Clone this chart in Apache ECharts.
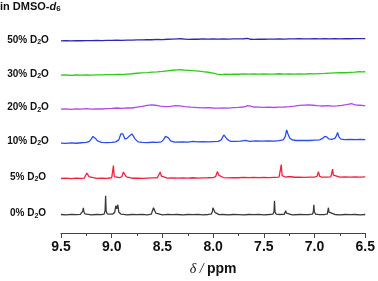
<!DOCTYPE html>
<html><head><meta charset="utf-8">
<script src="https://cdn.jsdelivr.net/npm/echarts@6/dist/echarts.min.js"></script>
<style>html,body{margin:0;padding:0;background:#fff}#c{width:378px;height:281px}</style>
</head><body><div id="c"></div>
<script>
// ---- data: [chemical shift (ppm), relative intensity] ----
const spec0 = [[9.50,0.2],[9.45,-0.2],[9.40,0.3],[9.35,0],[9.31,0.3],[9.295,0.8],[9.285,3.5],[9.28,7],[9.275,3.5],[9.265,0.8],[9.25,0.2],[9.20,-0.2],[9.15,0.2],[9.10,0],[9.075,0.5],[9.065,4],[9.06,19],[9.055,4],[9.045,0.8],[9.02,0.5],[8.99,0.6],[8.97,2.5],[8.96,9],[8.95,6],[8.94,10],[8.93,2.5],[8.91,0.6],[8.88,0.2],[8.85,-0.3],[8.80,0.2],[8.75,0],[8.70,0.3],[8.65,-0.2],[8.61,0.5],[8.595,2.5],[8.588,7],[8.58,5],[8.575,6],[8.565,1.5],[8.55,0.2],[8.50,-0.2],[8.45,0.3],[8.40,0],[8.35,0.2],[8.30,-0.2],[8.25,0.2],[8.20,0],[8.15,0.3],[8.10,-0.2],[8.05,0.2],[8.02,0.6],[8.008,3],[8.002,7],[7.995,5],[7.99,6],[7.98,2],[7.965,0.5],[7.94,0],[7.90,0.2],[7.85,-0.2],[7.80,0.2],[7.75,0],[7.70,-0.2],[7.65,0.2],[7.60,0],[7.55,0.3],[7.50,-0.1],[7.45,0.2],[7.41,0.6],[7.40,3],[7.395,14],[7.39,3],[7.38,0.6],[7.35,0.2],[7.30,0.3],[7.29,1.5],[7.284,4],[7.278,1.5],[7.27,0.3],[7.22,-0.2],[7.15,0.2],[7.10,0],[7.05,0.2],[7.02,0.6],[7.012,3],[7.007,10],[7.002,3],[6.99,0.6],[6.95,0],[6.90,0.2],[6.875,0.6],[6.868,2.5],[6.863,7],[6.858,2.5],[6.85,0.6],[6.80,0.2],[6.75,-0.2],[6.70,0.2],[6.65,0],[6.60,0.2],[6.55,-0.1],[6.50,0.2]];
const spec5 = [[9.50,-0.5],[9.45,-0.2],[9.40,-0.6],[9.35,-0.2],[9.30,-0.4],[9.27,0],[9.255,1.5],[9.245,5],[9.24,6],[9.235,5],[9.225,1.5],[9.21,0],[9.15,-0.3],[9.10,0],[9.05,-0.3],[9.00,0.3],[8.99,1.5],[8.983,12.5],[8.975,1.5],[8.96,0.3],[8.92,0.3],[8.90,1.5],[8.885,6],[8.878,5],[8.87,5.5],[8.855,1.2],[8.84,0.2],[8.80,-0.2],[8.75,0],[8.70,-0.3],[8.65,0],[8.60,0.2],[8.55,0.3],[8.535,2],[8.522,6],[8.51,2],[8.495,0.3],[8.45,0],[8.40,0.2],[8.35,-0.2],[8.30,0.2],[8.25,0],[8.20,0.3],[8.15,0],[8.10,0.2],[8.05,0.3],[8.00,0.5],[7.975,1.5],[7.958,6.5],[7.945,3],[7.93,1],[7.90,0.5],[7.85,0.2],[7.80,0.5],[7.75,0.3],[7.70,0.6],[7.65,0.4],[7.60,0.6],[7.55,0.5],[7.50,0.7],[7.45,0.5],[7.40,0.7],[7.35,0.9],[7.335,2.5],[7.328,13.5],[7.32,2.5],[7.31,1],[7.28,0.8],[7.26,1.5],[7.245,2.5],[7.23,1.3],[7.20,0.8],[7.15,1],[7.10,0.7],[7.05,1],[7.00,0.9],[6.975,1.8],[6.962,6.5],[6.95,1.8],[6.93,1],[6.88,0.9],[6.84,1.2],[6.828,3],[6.822,9],[6.815,3],[6.80,1.2],[6.75,0.9],[6.70,1.2],[6.65,0.9],[6.60,1.1],[6.55,1],[6.50,1.1]];
const spec10 = [[9.50,-1.2],[9.45,-1.5],[9.40,-1],[9.35,-1.4],[9.30,-0.9],[9.25,-0.6],[9.22,0.5],[9.20,3],[9.185,5.5],[9.175,6],[9.16,3.5],[9.14,1],[9.10,-0.5],[9.05,-0.8],[9.00,-0.6],[8.96,0],[8.93,2],[8.91,8],[8.90,10],[8.89,8],[8.87,3],[8.85,3.5],[8.82,6.5],[8.80,8],[8.79,7.5],[8.77,3],[8.74,0],[8.70,-0.5],[8.65,-0.8],[8.60,-0.4],[8.55,-0.6],[8.51,0],[8.49,2],[8.47,5.5],[8.455,6.5],[8.44,4],[8.42,1],[8.38,-0.2],[8.30,0],[8.25,-0.3],[8.20,0.5],[8.15,0],[8.10,0.2],[8.05,-0.1],[8.00,0.3],[7.95,0.5],[7.92,2],[7.895,7],[7.88,6],[7.86,2.5],[7.83,0.6],[7.78,0.5],[7.73,0.8],[7.68,1.6],[7.64,0.6],[7.58,1.1],[7.52,0.7],[7.45,1],[7.40,0.8],[7.35,1.2],[7.31,2],[7.29,5],[7.275,12],[7.262,8],[7.245,4],[7.22,2],[7.18,1.4],[7.12,1.6],[7.05,1.4],[7.00,1.8],[6.95,2],[6.92,3.5],[6.90,5.5],[6.88,5],[6.86,3],[6.83,2.5],[6.80,3.5],[6.785,6],[6.773,9.5],[6.76,5],[6.74,2.8],[6.70,2.2],[6.65,2.5],[6.60,2.2],[6.55,2.5],[6.50,2.3]];
const spec20 = [[9.50,-1],[9.45,-0.6],[9.40,-1.1],[9.35,-0.7],[9.30,-1],[9.25,-0.5],[9.20,-0.9],[9.15,-0.6],[9.10,-0.8],[9.05,-0.4],[9.00,-0.2],[8.95,0.2],[8.90,-0.1],[8.85,0.4],[8.80,0.2],[8.75,1],[8.70,1.8],[8.65,2.8],[8.61,3.3],[8.57,3],[8.52,2],[8.47,1.5],[8.42,1.8],[8.37,2.5],[8.33,2.3],[8.28,1.5],[8.22,1],[8.15,0.6],[8.10,0.3],[8.05,0.5],[8.00,0.2],[7.95,0],[7.90,0.3],[7.85,0.1],[7.80,0.5],[7.75,0.8],[7.70,1.2],[7.66,2.5],[7.645,3.3],[7.63,2],[7.60,1.2],[7.55,1],[7.50,0.8],[7.45,1],[7.40,0.7],[7.35,1],[7.30,1.2],[7.25,1.5],[7.20,2],[7.15,2.8],[7.10,3.2],[7.06,3.4],[7.02,3],[6.97,2.5],[6.92,2.2],[6.87,2.5],[6.82,2],[6.78,2.3],[6.73,2.8],[6.69,3.5],[6.66,4.2],[6.64,4.7],[6.62,4],[6.59,3.2],[6.55,3],[6.52,2.5],[6.50,2.6]];
const spec30 = [[9.50,-0.2],[9.45,0],[9.40,-0.3],[9.35,0],[9.30,-0.2],[9.25,0.1],[9.20,-0.1],[9.15,0.2],[9.10,0.1],[9.05,0.4],[9.00,0.3],[8.95,0.6],[8.90,0.5],[8.85,1],[8.80,1.3],[8.75,1.8],[8.71,2.2],[8.65,2.5],[8.60,3],[8.55,3.2],[8.50,3.6],[8.45,4.2],[8.40,4.8],[8.36,5.2],[8.32,5.3],[8.28,5],[8.24,4.7],[8.20,4.4],[8.14,4],[8.10,3.4],[8.05,2.8],[8.00,1.8],[7.96,1],[7.92,0.5],[7.88,0.8],[7.84,0.6],[7.80,1],[7.75,0.8],[7.70,1.1],[7.65,0.9],[7.60,1.2],[7.55,1],[7.50,1.2],[7.45,0.9],[7.40,1],[7.35,1.3],[7.30,1],[7.25,1.2],[7.20,0.9],[7.15,1.1],[7.10,1],[7.05,1.3],[7.00,1.2],[6.95,1.5],[6.90,1.6],[6.85,2],[6.80,2.2],[6.75,2.4],[6.70,2.3],[6.65,2.7],[6.60,3],[6.56,3.4],[6.53,3.2],[6.50,3.3]];
const spec50 = [[9.50,0],[9.45,0.2],[9.40,-0.1],[9.35,0.2],[9.30,0.1],[9.25,0.3],[9.20,0.2],[9.15,0.4],[9.10,0.3],[9.05,0.5],[9.00,0.4],[8.95,0.6],[8.90,0.5],[8.85,0.8],[8.80,0.7],[8.75,1],[8.70,0.9],[8.65,1.2],[8.60,1.1],[8.55,1.4],[8.50,1.3],[8.45,1.6],[8.40,1.7],[8.35,2],[8.32,2.1],[8.28,1.8],[8.24,1.5],[8.20,1.7],[8.15,1.6],[8.10,1.9],[8.05,1.7],[8.00,1.9],[7.95,1.8],[7.90,2],[7.85,1.8],[7.80,2],[7.75,1.9],[7.70,2.1],[7.66,2.4],[7.63,1.6],[7.60,1.5],[7.55,1.7],[7.50,1.6],[7.45,1.8],[7.40,1.7],[7.35,1.9],[7.30,1.8],[7.25,2],[7.20,1.9],[7.15,2.1],[7.10,1.9],[7.05,2],[7.00,2.1],[6.95,1.9],[6.90,2.1],[6.85,2],[6.80,2.2],[6.75,2],[6.70,2.2],[6.65,2.1],[6.60,2.3],[6.55,2.2],[6.50,2.3]];
const percents = ['0%', '5%', '10%', '20%', '30%', '50%'];
const xTickLabels = ['9.5', '9.0', '8.5', '8.0', '7.5', '7.0', '6.5'];

// ---- presentation ----
const spectra = [spec0, spec5, spec10, spec20, spec30, spec50];
const colors = ['#3a3a3a', '#f02040', '#2a4cf0', '#b048f0', '#2ccc14', '#2a2ab8'];
const offsets = [18.5, 55.5, 92, 126, 159.5, 194];   // vertical stacking of traces
const FONT = '"Liberation Sans", Arial, sans-serif';

const chart = echarts.init(document.getElementById('c'), null, {renderer: 'canvas'});
chart.setOption({
  animation: false,
  backgroundColor: '#fff',
  grid: {left: 61, right: 11, top: 25, bottom: 46},
  xAxis: {
    type: 'value', inverse: true, min: 6.5, max: 9.5, interval: 0.5,
    axisLine: {show: true, lineStyle: {color: '#444', width: 1}},
    axisTick: {show: true, length: 5, lineStyle: {color: '#444'}},
    minorTick: {show: true, splitNumber: 2, length: 3, lineStyle: {color: '#444'}},
    splitLine: {show: false},
    axisLabel: {
      margin: 7, color: '#111', fontSize: 14, fontWeight: 'bold', fontFamily: FONT,
      formatter: v => xTickLabels.find(t => Math.abs(parseFloat(t) - v) < 1e-6) || ''
    },
    name: '{i|δ /} {b|ppm}', nameLocation: 'middle', nameGap: 29,
    nameTextStyle: {
      rich: {
        i: {fontSize: 14, fontStyle: 'italic', fontFamily: '"Liberation Serif", serif', color: '#111'},
        b: {fontSize: 14, fontWeight: 'bold', fontFamily: FONT, color: '#111'}
      }
    }
  },
  yAxis: {type: 'value', min: 0, max: 210, show: false},
  series: spectra.map((s, i) => ({
    type: 'line', name: percents[i], showSymbol: false, symbol: 'none',
    lineStyle: {color: colors[i], width: 1.3}, itemStyle: {color: colors[i]},
    data: s.map(p => [p[0], p[1] + offsets[i]])
  }))
});

const rich = {
  b: {fontSize: 10, fontWeight: 'bold', fontFamily: FONT, fill: '#111', lineHeight: 12},
  s: {fontSize: 7, fontWeight: 'bold', fontFamily: FONT, fill: '#111', lineHeight: 7, verticalAlign: 'bottom'}
};
const graphics = percents.map((p, i) => ({
  type: 'text', x: 28, y: chart.convertToPixel({yAxisIndex: 0}, offsets[i]) - 1,
  style: {text: '{b|' + p + ' D}{s|2}{b|O}', rich: rich, align: 'center', verticalAlign: 'middle'}
}));
graphics.push({
  type: 'text', x: 0, y: 6.5,
  style: {
    text: '{b|in DMSO-}{i|d}{s|6}', align: 'left', verticalAlign: 'middle',
    rich: {
      b: {fontSize: 11, fontWeight: 'bold', fontFamily: FONT, fill: '#111', lineHeight: 13},
      i: {fontSize: 11, fontWeight: 'bold', fontStyle: 'italic', fontFamily: FONT, fill: '#111', lineHeight: 13},
      s: {fontSize: 8, fontWeight: 'bold', fontFamily: FONT, fill: '#111', lineHeight: 8, verticalAlign: 'bottom'}
    }
  }
});
chart.setOption({graphic: graphics});
</script>
</body></html>
